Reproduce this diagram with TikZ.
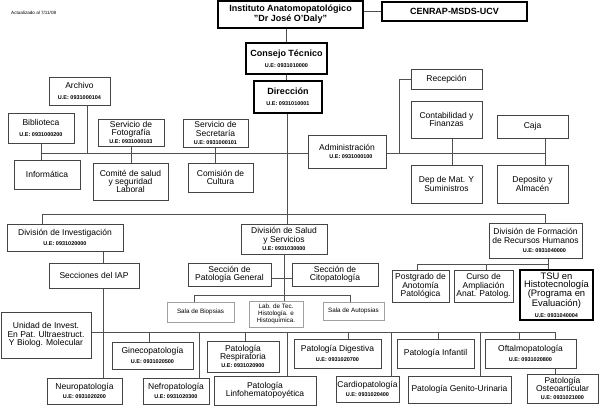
\documentclass[tikz,border=0pt]{standalone}
\usepackage{fontspec}
\setmainfont{Liberation Sans}
\usetikzlibrary{backgrounds}
\definecolor{bc}{HTML}{444444}
\definecolor{lc}{HTML}{505050}
\definecolor{lg}{HTML}{A0A0A0}
\newcommand\uel[1]{{\fontsize{5.5}{6}\selectfont\bfseries #1}}
\newcommand\bx[7]{\node[#6, minimum width={(#4-#2)*1pt}, minimum height={(#5-#3)*1pt}] (#1) at ({(#2+#4)/2},{(#3+#5)/2}) {#7};}
\tikzset{
  box/.style={draw=bc, line width=0.8pt, fill=white, align=center, inner sep=0pt, font=\fontsize{8.5}{8.3}\selectfont},
  tbox/.style={draw=black, line width=1.6pt, fill=white, align=center, inner sep=0pt, font=\bfseries\fontsize{9}{10}\selectfont},
  lbox/.style={draw=lg, line width=0.6pt, fill=white, align=center, inner sep=0pt, font=\fontsize{6.3}{6.9}\selectfont},
  conn/.style={draw=lc, line width=0.8pt}
}
\begin{document}
\begin{tikzpicture}[x=1pt,y=-1pt]
\path[use as bounding box] (0,0) rectangle (600,406);
\node[anchor=west, inner sep=0pt, font=\fontsize{4.6}{5}\selectfont] (upd) at (11,13) {Actualizado al 7/11/08};
% top
\bx{title}{218}{1}{363}{28}{tbox}{Instituto Anatomopatológico\\"Dr José O'Daly"}
\bx{cenrap}{382}{2}{527}{21}{tbox}{CENRAP-MSDS-UCV}
\bx{consejo}{246}{43}{327}{74}{tbox}{Consejo Técnico\\[1pt]\uel{U.E: 0931010000}}
\bx{direccion}{254}{81}{322}{113}{tbox}{Dirección\\[1pt]\uel{U.E: 0931010001}}
% staff
\bx{archivo}{49}{77}{110}{105}{box}{Archivo\\[2pt]\uel{U.E: 0931000104}}
\bx{biblioteca}{8}{113}{74}{143}{box}{Biblioteca\\[2pt]\uel{U.E: 0931000200}}
\bx{fotografia}{98}{119}{164}{146}{box}{Servicio de\\Fotografía\\\uel{U.E: 0931000103}}
\bx{secretaria}{183}{119}{248}{147}{box}{Servicio de\\Secretaría\\\uel{U.E: 0931000101}}
\bx{recepcion}{411}{69}{482}{89}{box}{Recepción}
\bx{contab}{411}{101}{482}{138}{box}{Contabilidad y\\Finanzas}
\bx{caja}{497}{115}{568}{138}{box}{Caja}
\bx{admin}{308}{135}{386}{168}{box}{Administración\\\hspace*{8pt}\uel{U.E: 0931000100}}
\bx{informatica}{14}{160}{80}{189}{box}{Informática}
\bx{comite}{93}{163}{168}{200}{box}{Comité de salud\\y seguridad\\Laboral}
\bx{comision}{188}{163}{253}{192}{box}{Comisión de\\Cultura}
\bx{depmat}{411}{165}{482}{203}{box}{Dep de Mat. Y\\Suministros}
\bx{deposito}{497}{165}{568}{203}{box}{Deposito y\\Almacén}
% divisions
\bx{divinv}{7}{224}{123}{251}{box}{División de Investigación\\[1pt]\uel{U.E: 0931020000}}
\bx{divsal}{241}{224}{327}{254}{box}{División de Salud\\y Servicios\\\uel{U.E: 0931030000}}
\bx{divform}{489}{223}{582}{258}{box}{División de Formación\\de Recursos Humanos\\[1pt]\hspace*{18pt}\uel{U.E: 0931040000}}
\bx{secciones}{49}{263}{139}{288}{box}{Secciones del IAP}
\bx{patgen}{188}{263}{271}{286}{box}{Sección de\\Patología General}
\bx{citopat}{292}{263}{378}{286}{box}{Sección de\\Citopatología}
\bx{postgrado}{392}{270}{449}{302}{box}{Postgrado de\\Anotomía\\Patológica}
\bx{curso}{454}{270}{513}{302}{box}{Curso de\\Ampliación\\Anat. Patolog.}
\bx{tsu}{520}{270}{593}{320}{box, draw=black, line width=1.3pt, font=\fontsize{9.4}{8.8}\selectfont}{TSU en\\Histotecnología\\(Programa en\\Evaluación)\\[2pt]\uel{U.E: 0931040004}}
\bx{biopsias}{167}{302}{234}{322}{lbox}{Sala de Biopsias}
\bx{labtec}{249}{301}{303}{327}{lbox}{Lab. de Tec.\\Histología. e\\Histoquímica.}
\bx{autopsias}{323}{302}{384}{320}{lbox}{Sala de Autopsias}
% sections
\bx{unidad}{1}{312}{91}{358}{box}{Unidad de Invest.\\En Pat. Ultraestruct.\\Y Biolog. Molecular}
\bx{gineco}{112}{342}{193}{369}{box}{Ginecopatología\\[1pt]\uel{U.E: 0931020500}}
\bx{respir}{207}{341}{279}{372}{box}{Patología\\Respiratoria\\\uel{U.E: 0931020900}}
\bx{digest}{294}{339}{381}{368}{box}{Patología Digestiva\\[1pt]\uel{U.E: 0931020700}}
\bx{infantil}{397}{339}{474}{368}{box}{Patología Infantil}
\bx{oftalmo}{485}{339}{576}{368}{box}{Oftalmopatología\\[1pt]\uel{U.E: 0931020800}}
\bx{neuro}{47}{378}{122}{404}{box}{Neuropatología\\[1pt]\uel{U.E: 0931020200}}
\bx{nefro}{143}{378}{209}{404}{box}{Nefropatología\\[1pt]\uel{U.E: 0931020300}}
\bx{linfo}{214}{376}{316}{405}{box}{Patología\\Linfohematopoyética}
\bx{cardio}{336}{376}{399}{402}{box}{Cardiopatología\\[1pt]\uel{U.E: 0931020400}}
\bx{genito}{408}{376}{511}{403}{box}{Patología Genito-Urinaria}
\bx{osteo}{527}{374}{598}{403}{box}{Patología\\Osteoarticular\\\uel{U.E: 0931021000}}
% connectors
\begin{scope}[on background layer]
\coordinate (t1) at (287,153);
\coordinate (t2) at (287,214);
\coordinate (h1L) at (42,153);
\coordinate (h1R) at (545,153);
\coordinate (h2L) at (42,214);
\coordinate (h2R) at (545,214);
\coordinate (ca) at (87,153);
\coordinate (cr) at (399,153);
\coordinate (cc) at (452,0);
\coordinate (cs) at (103,0);
\coordinate (h3R) at (555,332);
\coordinate (h3y) at (0,332);
\coordinate (cd) at (284,0);
\coordinate (sy) at (0,278);
\coordinate (s1) at (194,295);
\coordinate (s2) at (350,295);
\coordinate (f0) at (548,264);
\coordinate (f1) at (417,264);
\coordinate (f2) at (486,264);
\draw[conn] (cenrap.west -| title.east) -- (cenrap.west);
\draw[conn] (consejo.north |- title.south) -- (consejo.north);
\draw[conn] (consejo.south) -- (consejo.south |- direccion.north);
\draw[conn] (t2 |- direccion.south) -- (t2);
\draw[conn] (h1L) -- (h1R);
\draw[conn] (h2L) -- (h2R);
\draw[conn] (biblioteca.south) -- (biblioteca.south |- informatica.north);
\draw[conn] (archivo.south -| ca) -- (ca);
\draw[conn] (fotografia.south) -- (fotografia.south |- comite.north);
\draw[conn] (secretaria.south) -- (secretaria.south |- comision.north);
\draw[conn] (recepcion.west) -| (cr);
\draw[conn] (contab.south -| cc) -- (depmat.north -| cc);
\draw[conn] (caja.south -| h1R) -- (deposito.north -| h1R);
\draw[conn] (h2L) -- (divinv.north -| h2L);
\draw[conn] (t2) -- (divsal.north -| t2);
\draw[conn] (h2R) -- (divform.north -| h2R);
\draw[conn] (divinv.south -| cs) -- (secciones.north -| cs);
\draw[conn] (secciones.south -| cs) -- (neuro.north -| cs);
\draw[conn] (unidad.east |- h3y) -- (h3R);
\foreach \xx/\nn in {149/gineco,199/nefro,245/respir,287/linfo,348/digest,391/cardio,438/infantil,480/genito,519/oftalmo,555/osteo}{
  \coordinate (tmp) at (\xx,332);
  \draw[conn] (tmp) -- (\nn.north -| tmp);
}
\draw[conn] (divsal.south -| cd) -- (labtec.north -| cd);
\draw[conn] (patgen.east |- sy) -- (citopat.west |- sy);
\draw[conn] (s1) -- (s2);
\draw[conn] (s1) -- (biopsias.north -| s1);
\draw[conn] (s2) -- (autopsias.north -| s2);
\draw[conn] (divform.south -| f0) -- (f0) -- (f1);
\draw[conn] (f1) -- (postgrado.north -| f1);
\draw[conn] (f2) -- (curso.north -| f2);
\draw[conn] (f0) -- (tsu.north -| f0);
\end{scope}
\end{tikzpicture}
\end{document}
